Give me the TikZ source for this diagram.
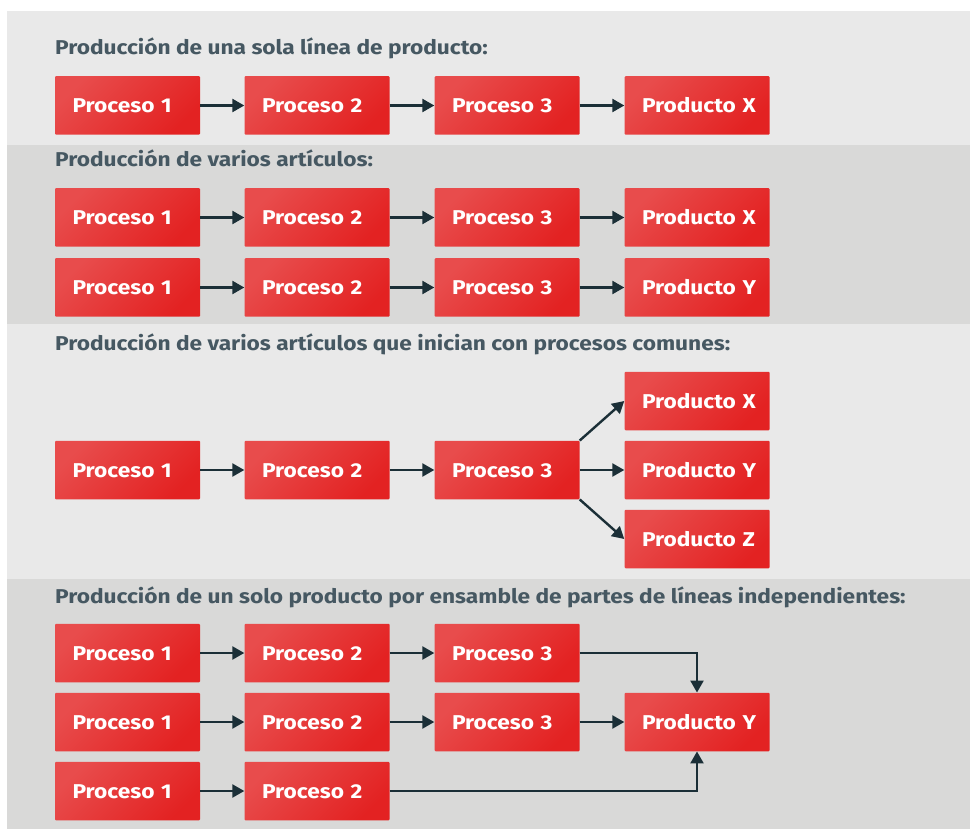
\documentclass[tikz,border=0pt]{standalone}
\usepackage{fontspec}
\setmainfont{Fira Sans}[FakeStretch=1.135]
\usetikzlibrary{arrows.meta}
\definecolor{bandlight}{HTML}{E9E9E9}
\definecolor{banddark}{HTML}{D9D9D8}
\definecolor{redlight}{HTML}{E84C4C}
\definecolor{reddark}{HTML}{E32222}
\definecolor{titlecol}{HTML}{465862}
\definecolor{arrowcol}{HTML}{1B2F37}
\tikzset{
  stepbox/.style={rectangle, rounded corners=1pt, inner xsep=0pt, inner ysep=0pt,
    text width=145pt, align=left, minimum height=58.5pt,
    text height=14pt, text depth=0pt,
    font=\fontsize{20pt}{22pt}\selectfont\bfseries, text=white,
    top color=redlight, bottom color=reddark, shading angle=45,
    execute at begin node=\hspace*{17.5pt}},
  flow/.style={draw=arrowcol, line width=2.4pt,
    -{Triangle[length=12pt,width=13pt]}},
  heading/.style={anchor=base west, inner sep=0pt, text=titlecol,
    font=\fontsize{20pt}{22pt}\selectfont\bfseries}
}
\begin{document}
\begin{tikzpicture}[x=1pt,y=-1pt]
\useasboundingbox (0,0) rectangle (970,829);
% background bands
\fill[bandlight] (7,11) rectangle (970,145);
\fill[banddark] (7,145) rectangle (970,324);
\fill[bandlight] (7,324) rectangle (970,579);
\fill[banddark] (7,579) rectangle (970,829);

% --- single product line
\node[heading] (t1) at (55,55) {Producción de una sola línea de producto:};
\node[stepbox] (a1) at (127.5,105.5) {Proceso 1};
\node[stepbox] (a2) at (317,105.5) {Proceso 2};
\node[stepbox] (a3) at (507,105.5) {Proceso 3};
\node[stepbox] (ax) at (697,105.5) {Producto X};
\draw[flow] (a1) -- (a2);
\draw[flow] (a2) -- (a3);
\draw[flow] (a3) -- (ax);

% --- several items
\node[heading] (t2) at (55,167) {Producción de varios artículos:};
\node[stepbox] (b1) at (127.5,217.5) {Proceso 1};
\node[stepbox] (b2) at (317,217.5) {Proceso 2};
\node[stepbox] (b3) at (507,217.5) {Proceso 3};
\node[stepbox] (bx) at (697,217.5) {Producto X};
\node[stepbox] (c1) at (127.5,287.5) {Proceso 1};
\node[stepbox] (c2) at (317,287.5) {Proceso 2};
\node[stepbox] (c3) at (507,287.5) {Proceso 3};
\node[stepbox] (cy) at (697,287.5) {Producto Y};
\draw[flow] (b1) -- (b2);
\draw[flow] (b2) -- (b3);
\draw[flow] (b3) -- (bx);
\draw[flow] (c1) -- (c2);
\draw[flow] (c2) -- (c3);
\draw[flow] (c3) -- (cy);

% --- several items sharing the first processes
\node[heading] (t3) at (55,351) {Producción de varios artículos que inician con procesos comunes:};
\node[stepbox] (d1) at (127.5,470) {Proceso 1};
\node[stepbox] (d2) at (317,470) {Proceso 2};
\node[stepbox] (d3) at (507,470) {Proceso 3};
\node[stepbox] (dx) at (697,401) {Producto X};
\node[stepbox] (dy) at (697,470) {Producto Y};
\node[stepbox] (dz) at (697,539) {Producto Z};
\draw[flow] (d1) -- (d2);
\draw[flow] (d2) -- (d3);
\draw[flow] (d3.north east) -- (dx.west);
\draw[flow] (d3) -- (dy);
\draw[flow] (d3.south east) -- (dz.west);

% --- one product assembled from independent lines
\node[heading] (t4) at (55,603) {Producción de un solo producto por ensamble de partes de líneas independientes:};
\node[stepbox] (e1) at (127.5,653) {Proceso 1};
\node[stepbox] (e2) at (317,653) {Proceso 2};
\node[stepbox] (e3) at (507,653) {Proceso 3};
\node[stepbox] (f1) at (127.5,722) {Proceso 1};
\node[stepbox] (f2) at (317,722) {Proceso 2};
\node[stepbox] (f3) at (507,722) {Proceso 3};
\node[stepbox] (fy) at (697,722) {Producto Y};
\node[stepbox] (g1) at (127.5,791) {Proceso 1};
\node[stepbox] (g2) at (317,791) {Proceso 2};
\draw[flow] (e1) -- (e2);
\draw[flow] (e2) -- (e3);
\draw[flow] (e3.east) -| (fy.north);
\draw[flow] (f1) -- (f2);
\draw[flow] (f2) -- (f3);
\draw[flow] (f3) -- (fy);
\draw[flow] (g1) -- (g2);
\draw[flow] (g2.east) -| (fy.south);
\end{tikzpicture}
\end{document}
